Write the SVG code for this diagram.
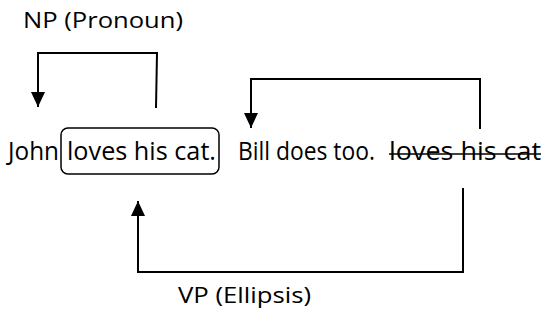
<svg xmlns="http://www.w3.org/2000/svg" width="545" height="320" viewBox="0 0 545 320">
<style>
text{font-family:"Open Sans","Noto Sans",sans-serif;fill:#000}
.s{font-size:25px}
.l{font-size:22.5px}
.c{fill:none;stroke:#000;stroke-width:2}
</style>
<defs>
<marker id="ah" markerUnits="userSpaceOnUse" markerWidth="16" markerHeight="15" refX="15" refY="7" orient="auto">
<path d="M0,0 L15,7 L0,14 z" fill="#000"/>
</marker>
</defs>
<rect width="545" height="320" fill="#fff"/>
<g id="sentence">
<text class="s" x="8" y="160" textLength="51" lengthAdjust="spacingAndGlyphs">John</text>
<text class="s" x="238" y="160" textLength="137" lengthAdjust="spacingAndGlyphs">Bill does too.</text>
</g>
<g id="antecedent">
<rect x="61" y="128" width="158" height="46" rx="7" fill="none" stroke="#000" stroke-width="1.5"/>
<text class="s" x="67" y="160" textLength="149" lengthAdjust="spacingAndGlyphs">loves his cat.</text>
</g>
<g id="elided">
<text class="s" x="389" y="160" textLength="152" lengthAdjust="spacingAndGlyphs">loves his cat</text>
<line x1="389" y1="154" x2="541" y2="154" stroke="#000" stroke-width="1.6"/>
</g>
<g id="np-label"><text class="l" x="23" y="28" textLength="160" lengthAdjust="spacingAndGlyphs">NP (Pronoun)</text></g>
<g id="vp-label"><text class="l" x="178" y="303" textLength="133" lengthAdjust="spacingAndGlyphs">VP (Ellipsis)</text></g>
<g id="connectors">
<polyline class="c" points="156,108 157,53 38,53 38,107" marker-end="url(#ah)"/>
<polyline class="c" points="480,129 480,79 251,79 251,128" marker-end="url(#ah)"/>
<polyline class="c" points="463,188 463,272 138,272 138,201" marker-end="url(#ah)"/>
</g>
</svg>
